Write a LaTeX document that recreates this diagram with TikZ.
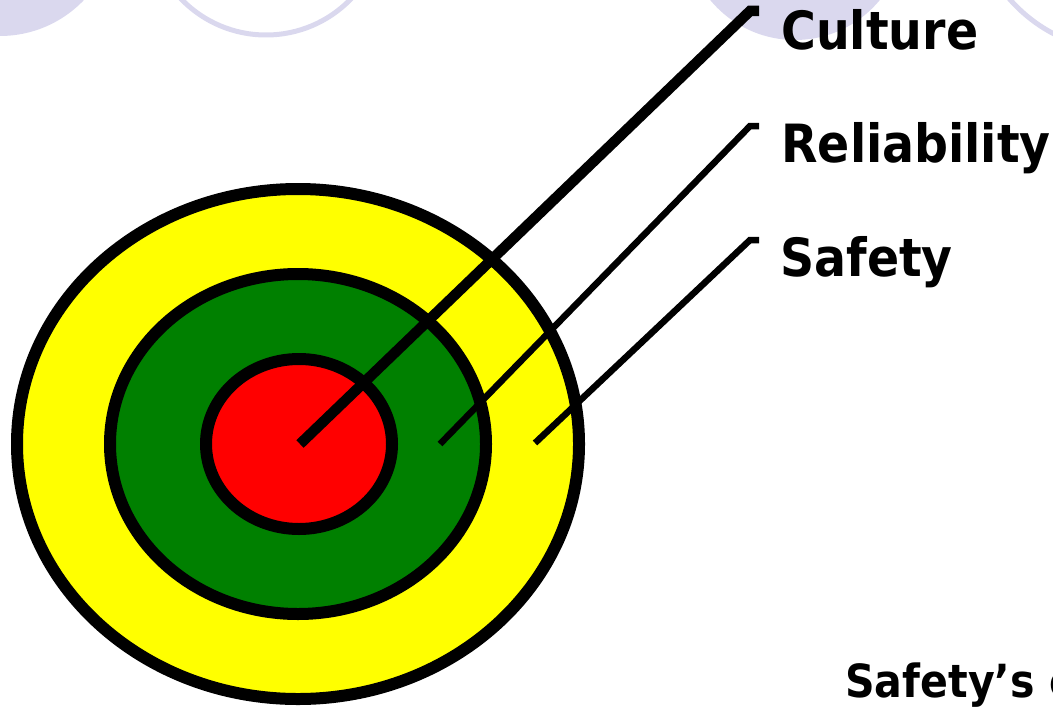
\documentclass[tikz,border=0pt]{standalone}
\usepackage{fontspec}
\newfontfamily\lblfont{DejaVu Sans Condensed}
\usetikzlibrary{positioning}
\definecolor{bgring}{HTML}{DAD8EE}
\definecolor{ringyellow}{RGB}{255,255,0}
\definecolor{ringgreen}{RGB}{0,128,0}
\definecolor{ringred}{RGB}{255,0,0}

\begin{document}
\begin{tikzpicture}[
    x=0.02cm, y=-0.02cm,
    deco/.style={fill=bgring, draw=none},
    decoring/.style={draw=bgring, line width=0.1cm},
    ring/.style={draw=black, line width=0.24cm},
    lead/.style={draw=black, line width=0.13cm, line join=miter},
    leadhi/.style={lead, line width=0.21cm},
    lbl/.style={anchor=base west, inner sep=0pt,
                font=\lblfont\bfseries\fontsize{30}{36}\selectfont},
  ]
  \useasboundingbox (0,0) rectangle (1053,706);

  % --- background shapes ---
  \fill[deco] (0,-80) circle [radius=116];
  \draw[decoring] (266,-83) circle [radius=118];
  \fill[deco] (795,-70) circle [radius=110];
  \draw[decoring] (1124,-101) circle [radius=152];

  % --- target ---
  \draw[ring, fill=ringyellow] (298,444) ellipse [x radius=281, y radius=255];
  \draw[ring, fill=ringgreen]  (298,444) ellipse [x radius=188, y radius=170];
  \draw[ring, fill=ringred]    (299,444) ellipse [x radius=93, y radius=85];

  % --- labels ---
  \node[lbl] (culture)     at (781,50)  {Culture};
  \node[lbl] (reliability) at (781,162) {Reliability};
  \node[lbl] (safety)      at (780,276) {Safety};
  \node[lbl, font=\lblfont\bfseries\fontsize{26}{31}\selectfont]
    (caption) at (845,697) {Safety’s c};

  % --- leaders ---
  \coordinate (culture root)  at (300,444);
  \coordinate (culture bend)  at (750,11);
  \coordinate (culture tip)   at (759,11);
  \coordinate (rel root)      at (440,444);
  \coordinate (rel bend)      at (750,126);
  \coordinate (rel tip)       at (759,126);
  \coordinate (safe root)     at (535,443);
  \coordinate (safe bend)     at (750,240);
  \coordinate (safe tip)      at (759,240);

  \draw[leadhi] (culture root) -- (culture bend) -- (culture tip);
  \draw[lead]   (rel root) -- (rel bend) -- (rel tip);
  \draw[lead]   (safe root) -- (safe bend) -- (safe tip);
\end{tikzpicture}
\end{document}
